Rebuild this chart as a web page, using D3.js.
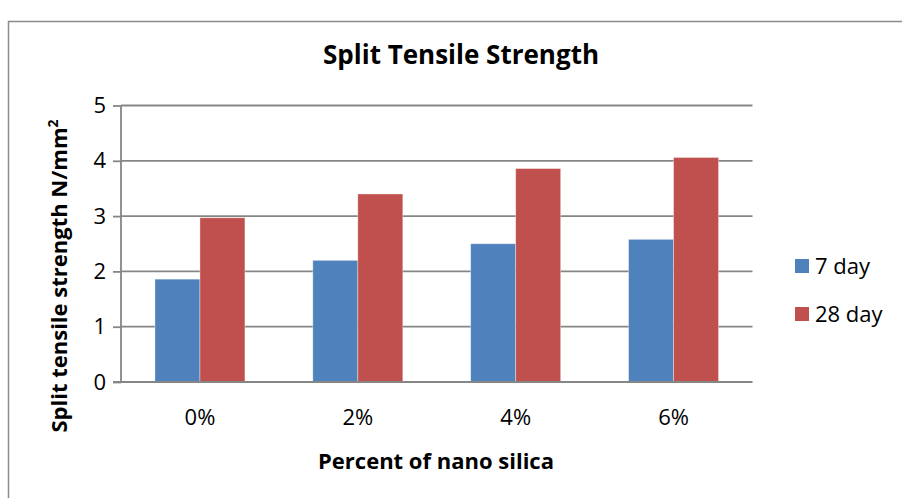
<!DOCTYPE html>
<html>
<head>
<meta charset="utf-8">
<script src="https://cdn.jsdelivr.net/npm/d3@7"></script>
<style>
  html, body { margin: 0; padding: 0; background: #fff; }
  svg { display: block; font-family: "Open Sans", Lato, sans-serif; }
</style>
</head>
<body>
<svg id="chart" width="902" height="498"></svg>
<script>
// Split tensile strength at 7 and 28 days for each nano silica dosage
const categories = ["0%", "2%", "4%", "6%"];
const seriesNames = ["7 day", "28 day"];
const day7 = [1.86, 2.20, 2.50, 2.58];
const day28 = [2.97, 3.40, 3.86, 4.06];
const yTicks = [0, 1, 2, 3, 4, 5];
const colors = ["#4F81BD", "#C0504D"];

const svg = d3.select("#chart");
const FONT = "'Open Sans', Lato, sans-serif";

// outer chart frame
svg.append("rect")
  .attr("x", 8.5).attr("y", 21.5)
  .attr("width", 1000).attr("height", 600)
  .attr("fill", "#fff").attr("stroke", "#8c8c8c").attr("stroke-width", 1.5);

const plot = { left: 121, right: 752.5, top: 105.5, bottom: 382 };

const x0 = d3.scaleBand().domain(categories)
  .range([plot.left, plot.right]).paddingInner(0.43).paddingOuter(0.215);
const x1 = d3.scaleBand().domain(seriesNames).range([0, x0.bandwidth()]);
const y = d3.scaleLinear().domain([0, 5]).range([plot.bottom, plot.top]);

// horizontal gridlines
svg.append("g").selectAll("line").data(yTicks.filter(d => d > 0)).join("line")
  .attr("x1", plot.left).attr("x2", plot.right)
  .attr("y1", d => y(d)).attr("y2", d => y(d))
  .attr("stroke", "#868686").attr("stroke-width", 1.8);

// bars
const rows = categories.map((c, i) => ({ cat: c, vals: [day7[i], day28[i]] }));
const groups = svg.append("g").selectAll("g").data(rows).join("g")
  .attr("transform", d => `translate(${x0(d.cat)},0)`);
groups.selectAll("rect").data(d => d.vals.map((v, k) => ({ v, k }))).join("rect")
  .attr("x", d => x1(seriesNames[d.k]))
  .attr("y", d => y(d.v))
  .attr("width", x1.bandwidth())
  .attr("height", d => y(0) - y(d.v))
  .attr("fill", d => colors[d.k])
  .attr("stroke", "rgba(255,255,255,0.45)").attr("stroke-width", 0.8);

// y axis
const yAxis = d3.axisLeft(y).tickValues(yTicks).tickSize(8).tickPadding(7)
  .tickFormat(d3.format("d"));
const gy = svg.append("g").attr("transform", `translate(${plot.left},0)`).call(yAxis);
gy.select(".domain").attr("stroke", "#868686").attr("stroke-width", 1.8)
  .attr("d", `M0,${plot.top}V${plot.bottom}`);
gy.selectAll(".tick line").attr("stroke", "#868686").attr("stroke-width", 1.8);
gy.selectAll(".tick text").attr("font-size", 22).attr("fill", "#000")
  .attr("font-family", FONT);

// x axis baseline
svg.append("line")
  .attr("x1", plot.left - 8).attr("x2", plot.right)
  .attr("y1", y(0)).attr("y2", y(0))
  .attr("stroke", "#868686").attr("stroke-width", 1.8);

const xAxis = d3.axisBottom(x0).tickSize(0).tickPadding(27);
const gx = svg.append("g").attr("transform", `translate(0,${plot.bottom})`).call(xAxis);
gx.select(".domain").remove();
gx.selectAll(".tick text").attr("font-size", 22).attr("fill", "#000")
  .attr("font-family", FONT);

// titles
svg.append("text").attr("x", 461).attr("y", 64).attr("text-anchor", "middle")
  .attr("font-size", 26).attr("font-weight", "bold").text("Split Tensile Strength");

svg.append("text").attr("x", 436).attr("y", 469).attr("text-anchor", "middle")
  .attr("font-size", 22).attr("font-weight", "bold").text("Percent of nano silica");

const yt = svg.append("text")
  .attr("transform", `translate(67,276) rotate(-90)`)
  .attr("text-anchor", "middle").attr("font-size", 22).attr("font-weight", "bold");
yt.append("tspan").text("Split tensile strength N/mm");
yt.append("tspan").attr("font-size", 14).attr("dy", -9).text("2");

// legend
const legend = svg.append("g").selectAll("g").data(seriesNames).join("g")
  .attr("transform", (d, i) => `translate(795,${259 + i * 48})`);
legend.append("rect").attr("width", 14).attr("height", 14)
  .attr("fill", (d, i) => colors[i]);
legend.append("text").attr("x", 20).attr("y", 15).attr("font-size", 22)
  .attr("fill", "#000").text(d => d);
</script>
</body>
</html>
